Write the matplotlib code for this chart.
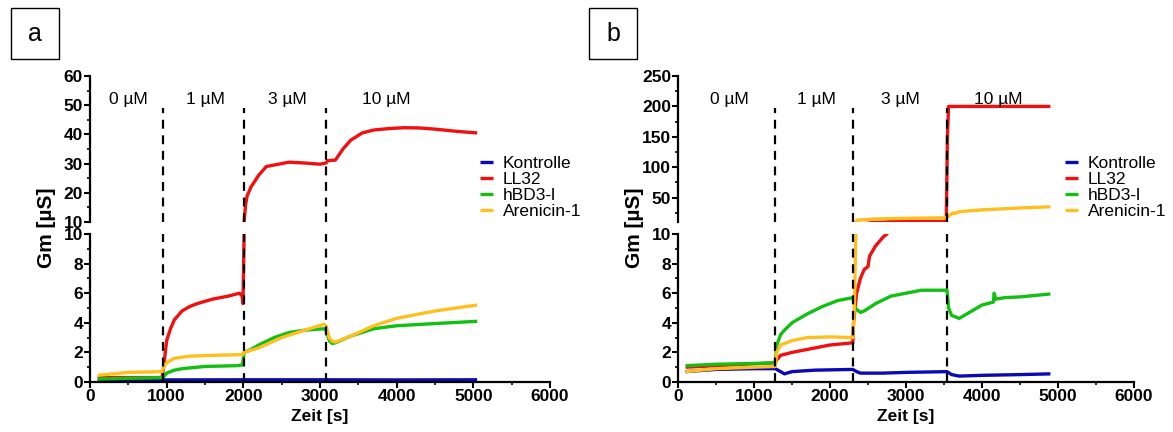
import matplotlib.pyplot as plt
from matplotlib.patches import Rectangle
from matplotlib.ticker import MultipleLocator, FixedLocator

plt.rcParams['font.family'] = ['Liberation Sans', 'DejaVu Sans']
plt.rcParams['font.size'] = 12.5

labels = ["Kontrolle", "LL32", "hBD3-l", "Arenicin-1"]
colors = ["#0a0ab4", "#f01010", "#12c012", "#ffbf1f"]
conc_labels = ["0 µM", "1 µM", "3 µM", "10 µM"]

# ---- panel a ----
a_steps = [950, 2010, 3080]
a_label_x = [500, 1500, 2580, 3865]

a_ctrl_x = [100, 500, 950, 1000, 2000, 3000, 4000, 5050]
a_ctrl_y = [0.15, 0.15, 0.15, 0.14, 0.15, 0.15, 0.14, 0.15]

a_ll32_x = [100, 500, 940, 960, 1000, 1050, 1100, 1200, 1300, 1400, 1600, 1800, 1950, 1985, 1995,
            2010, 2030, 2050, 2100, 2200, 2300, 2500, 2600, 2800, 3000, 3080, 3100, 3200, 3300,
            3400, 3550, 3700, 3900, 4100, 4300, 4500, 4800, 5050]
a_ll32_y = [0.3, 0.3, 0.3, 1.0, 2.8, 3.6, 4.2, 4.8, 5.1, 5.3, 5.6, 5.8, 6.0, 5.8, 5.3,
            10.0, 16.0, 19.0, 22.0, 26.0, 29.0, 30.0, 30.5, 30.2, 29.8, 30.2, 31.0, 31.2, 35.0,
            38.0, 40.5, 41.5, 42.0, 42.3, 42.2, 41.8, 41.0, 40.5]

a_hbd_x = [100, 500, 940, 960, 1000, 1100, 1200, 1500, 1900, 1990, 2010, 2100, 2200, 2400,
           2600, 2800, 3050, 3080, 3120, 3160, 3200, 3400, 3700, 4000, 4500, 5050]
a_hbd_y = [0.2, 0.25, 0.3, 0.35, 0.6, 0.8, 0.9, 1.05, 1.1, 1.15, 2.0, 2.2, 2.5, 3.0,
           3.35, 3.5, 3.6, 3.5, 2.8, 2.6, 2.65, 3.1, 3.6, 3.8, 3.95, 4.1]

a_are_x = [100, 300, 500, 940, 960, 1000, 1100, 1300, 1600, 1990, 2010, 2200, 2500, 2800,
           3050, 3080, 3120, 3160, 3200, 3400, 3700, 4000, 4500, 5050]
a_are_y = [0.45, 0.55, 0.65, 0.7, 1.0, 1.3, 1.6, 1.75, 1.8, 1.85, 2.0, 2.3, 3.0, 3.5,
           3.9, 3.8, 3.0, 2.75, 2.7, 3.1, 3.8, 4.3, 4.8, 5.2]

# ---- panel b ----
b_steps = [1280, 2300, 3540]
b_label_x = [670, 1817, 2930, 4213]

b_ctrl_x = [100, 500, 1000, 1280, 1350, 1400, 1500, 1800, 2300, 2350, 2400, 2700, 3000, 3540,
            3600, 3700, 4000, 4500, 4900]
b_ctrl_y = [0.7, 0.85, 0.9, 0.9, 0.7, 0.55, 0.7, 0.8, 0.85, 0.7, 0.6, 0.6, 0.65, 0.7,
            0.5, 0.4, 0.45, 0.5, 0.55]

b_ll32_x = [100, 500, 1280, 1300, 1350, 1500, 1800, 2000, 2300, 2310, 2350, 2400, 2450, 2500,
            2520, 2600, 2700, 2750, 2760, 3000, 3530, 3545, 3560, 4000, 4500, 4900]
b_ll32_y = [1.0, 1.1, 1.3, 1.5, 1.8, 2.0, 2.3, 2.5, 2.65, 4.0, 6.0, 7.0, 7.6, 7.8,
            8.5, 9.2, 9.8, 10.0, 11.0, 11.0, 11.0, 150.0, 200.0, 200.0, 200.0, 200.0]

b_hbd_x = [100, 500, 1000, 1280, 1300, 1350, 1400, 1500, 1700, 1900, 2100, 2300, 2330, 2400,
           2450, 2600, 2800, 3000, 3200, 3540, 3560, 3600, 3700, 3800, 3900, 4000, 4150, 4160,
           4180, 4300, 4500, 4900]
b_hbd_y = [1.1, 1.2, 1.25, 1.3, 2.5, 3.2, 3.5, 4.0, 4.6, 5.1, 5.5, 5.7, 5.0, 4.7,
           4.8, 5.3, 5.8, 6.0, 6.2, 6.2, 5.0, 4.5, 4.3, 4.6, 4.9, 5.2, 5.4, 6.0,
           5.6, 5.7, 5.75, 5.95]

b_are_x = [100, 500, 1000, 1280, 1300, 1350, 1500, 1700, 2000, 2300, 2320, 2340, 2350, 2600,
           3000, 3540, 3560, 3620, 3650, 3700, 4000, 4500, 4900]
b_are_y = [0.7, 0.9, 1.0, 1.05, 2.0, 2.5, 2.8, 3.0, 3.05, 3.0, 5.0, 10.0, 13.0, 15.0,
           16.0, 17.0, 20.0, 25.0, 24.0, 27.0, 30.0, 33.0, 35.0]

fig = plt.figure(figsize=(11.73, 4.32), dpi=100)
W, H = 1173, 432


def fx(px):
    return px / W


def fy(py):
    return 1 - py / H


def panel(left, right, top_lim, top_major, top_minor, vtop, label_y, series, steps, label_x, tag, tag_x, leg_x):
    ax_t = fig.add_axes([fx(left), fy(222), fx(right - left), fy(76) - fy(222)])
    ax_b = fig.add_axes([fx(left), fy(382), fx(right - left), fy(234) - fy(382)])

    for (xs, ys), c, lab in zip(series, colors, labels):
        ax_b.plot(xs, ys, color=c, lw=2.4, label=lab, solid_capstyle='butt')
        ax_t.plot(xs, ys, color=c, lw=2.4, solid_capstyle='butt')

    ax_b.vlines(steps, 0, 10, colors='black', linestyles=(0, (4, 3)), lw=1.6, zorder=5)
    ax_t.vlines(steps, 10, vtop, colors='black', linestyles=(0, (4, 3)), lw=1.6, zorder=5)

    ax_b.set_xlim(0, 6000)
    ax_b.set_ylim(0, 10)
    ax_t.set_xlim(0, 6000)
    ax_t.set_ylim(*top_lim)

    ax_b.xaxis.set_major_locator(MultipleLocator(1000))
    ax_b.xaxis.set_minor_locator(MultipleLocator(500))
    ax_b.yaxis.set_major_locator(MultipleLocator(2))
    ax_b.yaxis.set_minor_locator(MultipleLocator(1))
    ax_t.yaxis.set_major_locator(FixedLocator(top_major))
    ax_t.yaxis.set_minor_locator(MultipleLocator(top_minor))

    for ax in (ax_b, ax_t):
        ax.patch.set_alpha(0)
        for s in ("top", "right"):
            ax.spines[s].set_visible(False)
        ax.spines["left"].set_linewidth(1.6)
        ax.spines["bottom"].set_linewidth(1.6)
        ax.tick_params(which='major', length=4, width=1.5, labelsize=12.5, pad=1)
        ax.tick_params(which='minor', length=2.5, width=1.2)
        for t in ax.get_xticklabels() + ax.get_yticklabels():
            t.set_fontweight('bold')
    ax_t.spines["bottom"].set_visible(False)
    ax_t.tick_params(axis='x', which='both', bottom=False, labelbottom=False)

    for lx, txt in zip(label_x, conc_labels):
        ax_t.text(lx, label_y, txt, ha='center', va='center', fontsize=12.5)

    ax_b.set_xlabel("Zeit [s]", fontsize=12.5, fontweight='bold', labelpad=4)

    fig.text(fx(left - 44), fy(228), "Gm [µS]", rotation=90, ha='center', va='center',
             fontsize=15, fontweight='bold')

    h, l = ax_b.get_legend_handles_labels()
    fig.legend(h, l, loc='upper left', bbox_to_anchor=(fx(leg_x), fy(156)), frameon=False,
               handlelength=0.75, handletextpad=0.55, labelspacing=0.05, borderpad=0,
               borderaxespad=0, fontsize=12.5)

    fig.patches.append(Rectangle((fx(tag_x), fy(59)), fx(48), fy(8) - fy(59), transform=fig.transFigure,
                                 fill=False, lw=1.0, edgecolor='black'))
    fig.text(fx(tag_x + 24), fy(34), tag, ha='center', va='center', fontsize=18)


panel(90, 550, (10, 60), [10, 20, 30, 40, 50, 60], 5, 49, 52,
      [(a_ctrl_x, a_ctrl_y), (a_ll32_x, a_ll32_y), (a_hbd_x, a_hbd_y), (a_are_x, a_are_y)],
      a_steps, a_label_x, "a", 11, 480)
panel(678, 1134, (10, 250), [50, 100, 150, 200, 250], 25, 197, 212,
      [(b_ctrl_x, b_ctrl_y), (b_ll32_x, b_ll32_y), (b_hbd_x, b_hbd_y), (b_are_x, b_are_y)],
      b_steps, b_label_x, "b", 589, 1065)

fig.savefig("out.png", dpi=100)
